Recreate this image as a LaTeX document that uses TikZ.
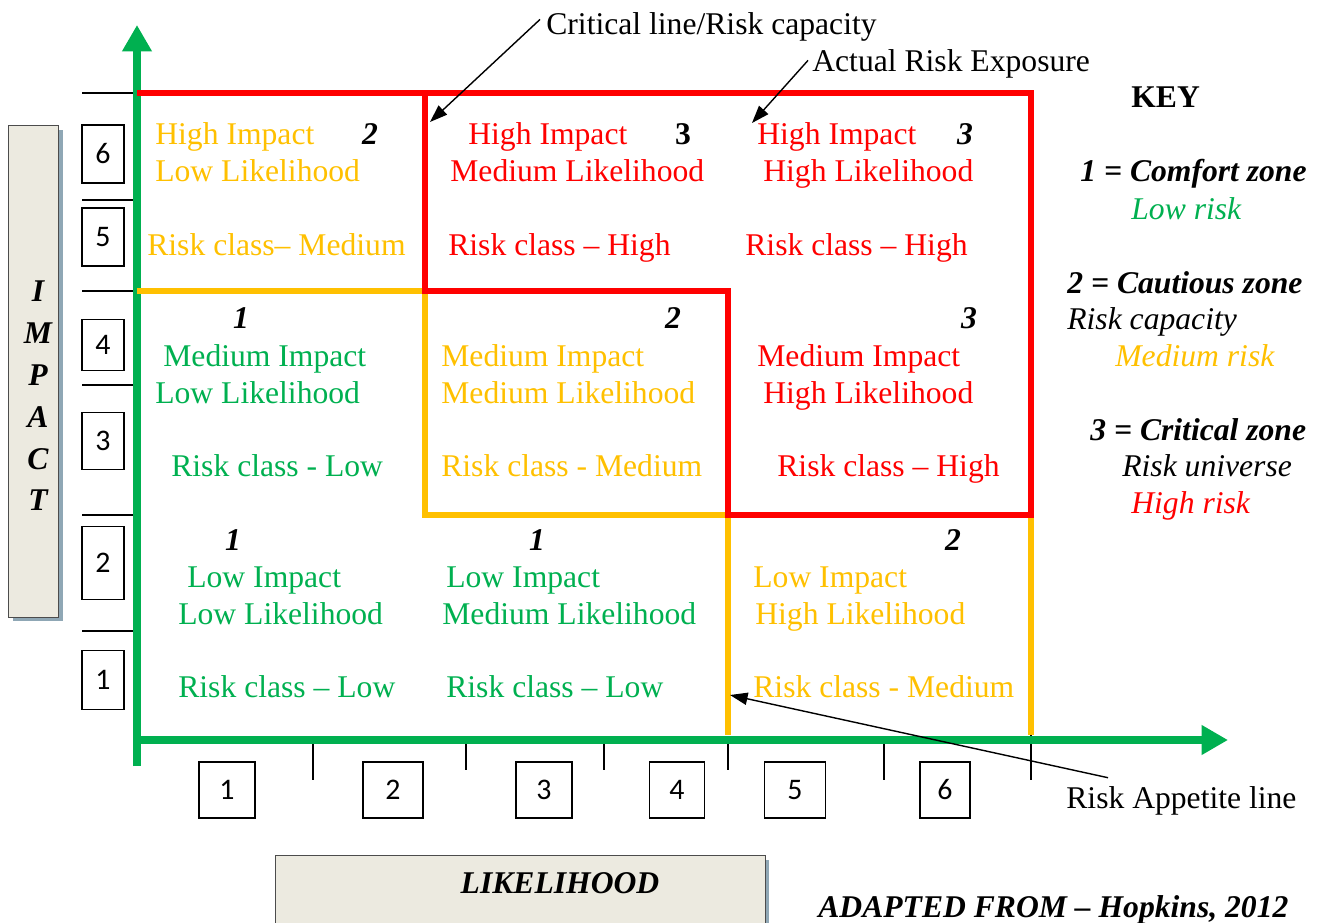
\documentclass[tikz,border=0pt]{standalone}
\usepackage{fontspec}
\setmainfont{Liberation Serif}
\newfontfamily\boxfont{Carlito}
\usetikzlibrary{arrows.meta,positioning,calc,shadows}
\definecolor{zoneG}{RGB}{0,176,80}
\definecolor{zoneO}{RGB}{255,192,0}
\definecolor{zoneR}{RGB}{255,0,0}
\definecolor{panelB}{RGB}{236,234,224}
\definecolor{shadeB}{RGB}{143,167,181}

\begin{document}
\begin{tikzpicture}[
  x=0.02cm, y=-0.02cm,
  txt/.style={font=\fontsize{18}{20}\selectfont, inner sep=0pt, anchor=base west},
  lo/.style={txt, text=zoneG},
  md/.style={txt, text=zoneO},
  hi/.style={txt, text=zoneR},
  num/.style={txt, anchor=base, font=\fontsize{18}{20}\selectfont\bfseries\itshape},
  keyhd/.style={txt, font=\fontsize{18}{20}\selectfont\bfseries\itshape},
  keyit/.style={txt, font=\fontsize{18}{20}\selectfont\itshape},
  numbox/.style={draw, line width=0.9pt, inner sep=0pt, font=\boxfont\fontsize{17}{19}\selectfont},
  panel/.style={draw=black!70, line width=0.6pt, fill=panelB, drop shadow={shadow xshift=2.3pt, shadow yshift=-2.3pt, fill=shadeB, opacity=1}},
  axis/.style={zoneG, line width=4.5pt, -{Triangle[length=15pt,width=16pt]}},
  zone/.style={line width=3.8pt},
  tick/.style={line width=0.8pt},
  pointer/.style={line width=0.8pt, -{Triangle[length=10pt,width=7pt]}}
]
\useasboundingbox (0,0) rectangle (1317,922);

% axis panels
\node[panel, anchor=north west, minimum width=1cm, minimum height=9.84cm] (impact) at (8,125) {};
\node[align=center, inner sep=0pt, font=\fontsize{18}{23.8}\selectfont\bfseries\itshape] (impactTxt) at (38,396) {I\\M\\P\\A\\C\\T};
\node[panel, anchor=north west, minimum width=9.8cm, minimum height=1.5cm] (likeli) at (275,855) {};
\node[num] (likeliTxt) at (560,893) {LIKELIHOOD};

% scale marks
\foreach \ty in {93,200,291,385,515,631}
  \draw[tick] (82,\ty) -- (137,\ty);
\draw[tick] (137,373) -- (137,397);
\foreach \tx/\tlen in {313/780,466/770,604/770,728/770,884/780,1031/780}
  \draw[tick] (\tx,740) -- (\tx,\tlen);
\draw[tick] (1031,715) -- (1031,740);
\draw[tick] (705,515) -- (730,515);

\foreach \n/\cy/\h in {6/154/58,5/237/58,4/345/51,3/441/57,2/563/73,1/680/59}
  \node[numbox, minimum width=0.84cm, minimum height=\h*0.02cm] (im\n) at (103,\cy) {\n};
\foreach \n/\cx/\w in {1/227/56,2/393/60,3/544/56,4/677/55,5/795/61,6/945/50}
  \node[numbox, minimum width=\w*0.02cm, minimum height=1.12cm] (lk\n) at (\cx,790) {\n};

% axes
\coordinate (org) at (137,740);
\draw[axis] (137,766) -- (137,25);
\draw[axis] (133,740) -- (1228,740);

% zone borders
\draw[zone, zoneO] (137,291) -- (425,291) -- (425,515) -- (728,515) -- (728,735);
\draw[zone, zoneO] (1031,515) -- (1031,735);
\draw[zone, zoneR] (137,93) -- (1031,93) -- (1031,515) -- (728,515) -- (728,291) -- (425,291) -- (425,93);

% high impact row
\node[md] (c61a) at (155,145) {High Impact};
\node[md] (c61b) at (155,182) {Low Likelihood};
\node[md] (c61c) at (147,255) {Risk class-- Medium};
\node[num] (c61n) at (370,145) {2};
\node[hi] (c62a) at (468,145) {High Impact};
\node[hi] (c62b) at (450,182) {Medium Likelihood};
\node[hi] (c62c) at (448,255) {Risk class -- High};
\node[num, font=\fontsize{18}{20}\selectfont\bfseries] (c62n) at (683,145) {3};
\node[hi] (c63a) at (757,145) {High Impact};
\node[hi] (c63b) at (763,182) {High Likelihood};
\node[hi] (c63c) at (745,255) {Risk class -- High};
\node[num] (c63n) at (965,145) {3};

% medium impact row
\node[num] (c41n) at (241,328) {1};
\node[lo] (c41a) at (163,366) {Medium Impact};
\node[lo] (c41b) at (155,403) {Low Likelihood};
\node[lo] (c41c) at (171,476) {Risk class - Low};
\node[num] (c42n) at (673,328) {2};
\node[md] (c42a) at (441,366) {Medium Impact};
\node[md] (c42b) at (441,403) {Medium Likelihood};
\node[md] (c42c) at (441,476) {Risk class - Medium};
\node[num] (c43n) at (969,328) {3};
\node[hi] (c43a) at (757,366) {Medium Impact};
\node[hi] (c43b) at (763,403) {High Likelihood};
\node[hi] (c43c) at (777,476) {Risk class -- High};

% low impact row
\node[num] (c21n) at (233,550) {1};
\node[lo] (c21a) at (187,587) {Low Impact};
\node[lo] (c21b) at (178,624) {Low Likelihood};
\node[lo] (c21c) at (178,697) {Risk class -- Low};
\node[num] (c22n) at (537,550) {1};
\node[lo] (c22a) at (446,587) {Low Impact};
\node[lo] (c22b) at (442,624) {Medium Likelihood};
\node[lo] (c22c) at (446,697) {Risk class -- Low};
\node[num] (c23n) at (953,550) {2};
\node[md] (c23a) at (753,587) {Low Impact};
\node[md] (c23b) at (755,624) {High Likelihood};
\node[md] (c23c) at (753,697) {Risk class - Medium};

% key
\node[txt, font=\fontsize{18}{20}\selectfont\bfseries] (key) at (1131,108) {KEY};
\node[keyhd] (k1) at (1080,182) {1 = Comfort zone};
\node[keyit, text=zoneG] (k1b) at (1131,219) {Low risk};
\node[keyhd] (k2) at (1067,293) {2 = Cautious zone};
\node[keyit] (k2b) at (1067,329) {Risk capacity};
\node[keyit, text=zoneO] (k2c) at (1115,366) {Medium risk};
\node[keyhd] (k3) at (1090,440) {3 = Critical zone};
\node[keyit] (k3b) at (1122,476) {Risk universe};
\node[keyit, text=zoneR] (k3c) at (1131,513) {High risk};
\node[keyhd] (src) at (818,917) {ADAPTED FROM -- Hopkins, 2012};

% callouts
\node[txt] (crit) at (546,35) {Critical line/Risk capacity};
\node[txt] (expo) at (812,72) {Actual Risk Exposure};
\node[txt] (appe) at (1066,808) {Risk Appetite line};
\coordinate (critTip) at (430,122);
\coordinate (expoTip) at (752,123);
\coordinate (appeTip) at (730,695);
\draw[pointer] ($(crit.west)+(-6,-8)$) -- (critTip);
\draw[pointer] ($(expo.west)+(-4,-4)$) -- (expoTip);
\draw[pointer] ($(appe.north west)+(42,-8)$) -- (appeTip);
\end{tikzpicture}
\end{document}
